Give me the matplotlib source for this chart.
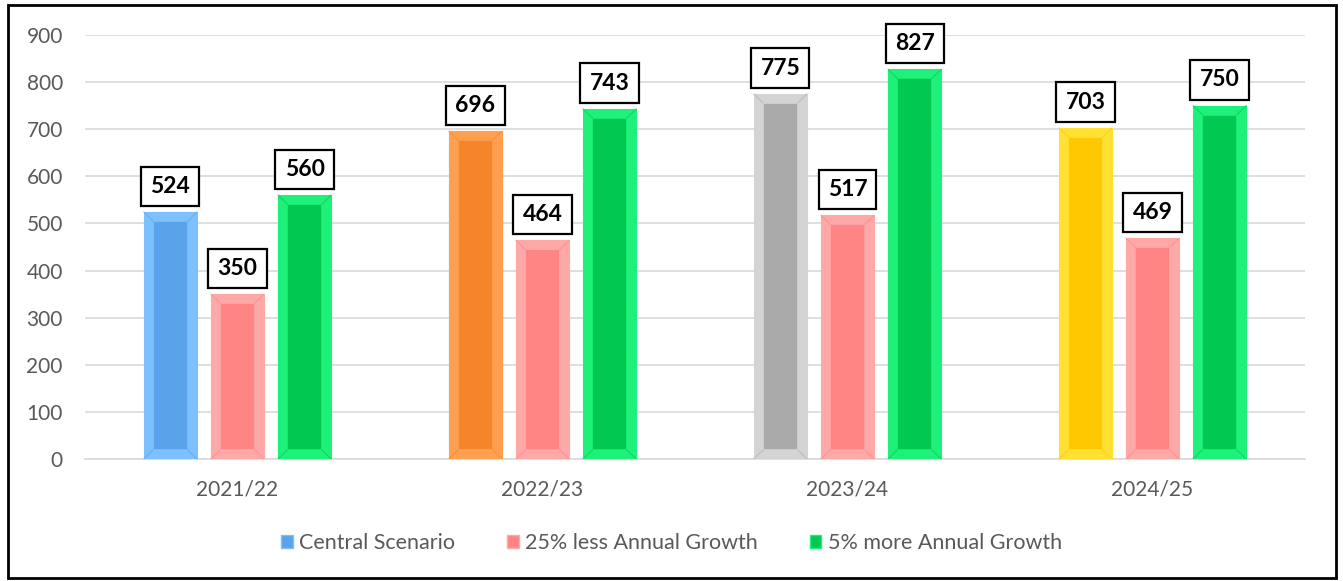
import numpy as np
import matplotlib
matplotlib.use("Agg")
import matplotlib.pyplot as plt
from matplotlib.patches import Rectangle, Patch

# data
years = ["2021/22", "2022/23", "2023/24", "2024/25"]
central = [524, 696, 775, 703]
less25 = [350, 464, 517, 469]
more5 = [560, 743, 827, 750]
series_names = ["Central Scenario", "25% less Annual Growth", "5% more Annual Growth"]

# (outer band colour, inner colour)
central_cols = [("#7cc0ff", "#5aa2ea"), ("#ffa050", "#f5842a"),
                ("#d4d4d4", "#aaaaaa"), ("#ffe033", "#ffc800")]
pink_col = ("#ffa8a8", "#ff8585")
green_col = ("#1ef07a", "#00c850")

plt.rcParams['font.family'] = ['Lato', 'DejaVu Sans']

fig = plt.figure(figsize=(13.43, 5.81), dpi=100)
ax = fig.add_axes([0.0633, 0.21, 0.9084, 0.7298])

x = np.arange(len(years))
w = 0.174
step = 0.22
ins_x = 0.03
ins_y = 19


def bevel_bar(xc, val, cols):
    outer, inner = cols
    ax.add_patch(Rectangle((xc - w / 2, 0), w, val, facecolor=outer,
                           edgecolor=outer, lw=0.8, zorder=3))
    ax.add_patch(Rectangle((xc - w / 2 + ins_x, ins_y), w - 2 * ins_x, val - 2 * ins_y,
                           facecolor=inner, edgecolor=outer, lw=1.2, zorder=4))
    # corner bevel lines
    for (x0, y0, x1, y1) in [(xc - w / 2, 0, xc - w / 2 + ins_x, ins_y),
                             (xc + w / 2, 0, xc + w / 2 - ins_x, ins_y),
                             (xc - w / 2, val, xc - w / 2 + ins_x, val - ins_y),
                             (xc + w / 2, val, xc + w / 2 - ins_x, val - ins_y)]:
        ax.plot([x0, x1], [y0, y1], color=inner, lw=0.8, zorder=5, alpha=0.6)
    ax.annotate(str(val), (xc, val), xytext=(0, 11), textcoords="offset points",
                ha="center", va="bottom", fontsize=16.5, fontweight="bold", color="black",
                zorder=6,
                bbox=dict(boxstyle="square,pad=0.4", facecolor="white",
                          edgecolor="black", lw=1.6))


for i in range(len(years)):
    bevel_bar(x[i] - step, central[i], central_cols[i])
    bevel_bar(x[i], less25[i], pink_col)
    bevel_bar(x[i] + step, more5[i], green_col)

ax.set_xlim(-0.5, len(years) - 0.5)
ax.set_ylim(0, 900)
ax.set_yticks(range(0, 901, 100))
ax.set_xticks(x)
ax.set_xticklabels(years)
ax.yaxis.grid(True, color="#d9d9d9", lw=1.2, zorder=0)
ax.set_axisbelow(True)
for s in ["top", "right", "left"]:
    ax.spines[s].set_visible(False)
ax.spines["bottom"].set_color("#d9d9d9")
ax.spines["bottom"].set_linewidth(1.2)
ax.tick_params(axis="both", length=0, labelsize=15, colors="#595959")
ax.tick_params(axis="x", pad=15)
ax.tick_params(axis="y", pad=16)

handles = [Patch(facecolor=central_cols[0][1], edgecolor=central_cols[0][0]),
           Patch(facecolor=pink_col[1], edgecolor=pink_col[0]),
           Patch(facecolor=green_col[1], edgecolor=green_col[0])]
leg = fig.legend(handles, series_names, loc="center", bbox_to_anchor=(0.5, 0.065),
                 ncol=3, frameon=False, fontsize=15.5, handlelength=0.55, handleheight=0.55,
                 handletextpad=0.3, columnspacing=2.4)
for t in leg.get_texts():
    t.set_color("#595959")

fig.patches.append(Rectangle((0.006, 0.005), 0.989, 0.987, transform=fig.transFigure,
                             fill=False, edgecolor="black", lw=2, zorder=10))

fig.savefig("out.png", dpi=100)
